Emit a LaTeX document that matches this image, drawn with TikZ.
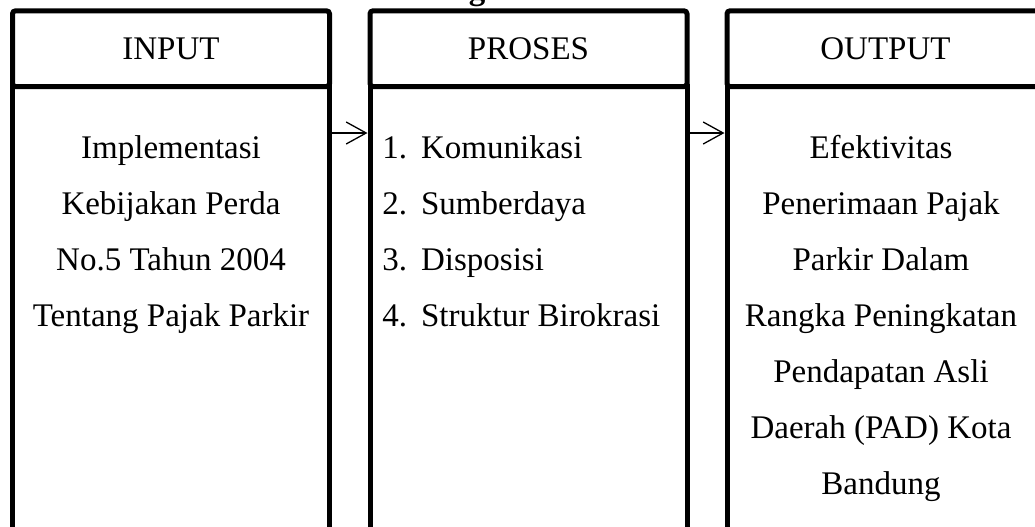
\documentclass[tikz,border=0pt]{standalone}
\usepackage{fontspec}
\setmainfont{Liberation Serif}
\usetikzlibrary{arrows.meta, positioning}

\begin{document}
\begin{tikzpicture}[
    x=0.5pt, y=-0.5pt,
    font=\fontsize{16.5}{28}\selectfont,
    kepala/.style={
        draw,
        line width=2.5pt,
        rounded corners=1.5pt,
        minimum width=158.5pt,
        minimum height=37.85pt,
        inner sep=0pt,
        outer sep=0pt
    },
    badan/.style={
        draw,
        line width=2.5pt,
        minimum width=158.5pt,
        minimum height=260pt,
        inner sep=0pt,
        outer sep=0pt
    },
    isi/.style={
        align=center,
        inner sep=0pt
    },
    panah/.style={
        -{Straight Barb[length=10pt, width=11pt]},
        line width=0.65pt,
        shorten >=1.25pt
    }
]
\useasboundingbox (0,0) rectangle (1035,526);

% Title (cut off at the top)
\node[font=\fontsize{16.5}{28}\selectfont\bfseries, anchor=base, inner sep=0pt] (judul) at (528,-1) {Kerangka Pemikiran};

% Headers
\node[kepala] (input) at (171,48.65) {INPUT};
\node[kepala] (proses) at (528.5,48.65) {PROSES};
\node[kepala] (output) at (885.5,48.65) {OUTPUT};

% Bodies
\node[badan, below=0pt of input] (badaninput) {};
\node[badan, below=0pt of proses] (badanproses) {};
\node[badan, below=0pt of output] (badanoutput) {};

% Texts
\node[isi, below=24.25pt of badaninput.north] (teksinput)
    {Implementasi\\Kebijakan Perda\\No.5 Tahun 2004\\Tentang Pajak Parkir};
\node[isi, align=left, below right=24.25pt and 6pt of badanproses.north west] (teksproses)
    {1.\hspace{7pt}Komunikasi\\2.\hspace{7pt}Sumberdaya\\3.\hspace{7pt}Disposisi\\4.\hspace{7pt}Struktur Birokrasi};
\node[isi, below=24.25pt of badanoutput.north, xshift=-2.25pt] (teksoutput)
    {Efektivitas\\Penerimaan Pajak\\Parkir Dalam\\Rangka Peningkatan\\Pendapatan Asli\\Daerah (PAD) Kota\\Bandung};

% Arrows
\draw[panah] ([yshift=-23.25pt]badaninput.north east) -- ([yshift=-23.25pt]badanproses.north west);
\draw[panah] ([yshift=-23.25pt]badanproses.north east) -- ([yshift=-23.25pt]badanoutput.north west);

\end{tikzpicture}
\end{document}
